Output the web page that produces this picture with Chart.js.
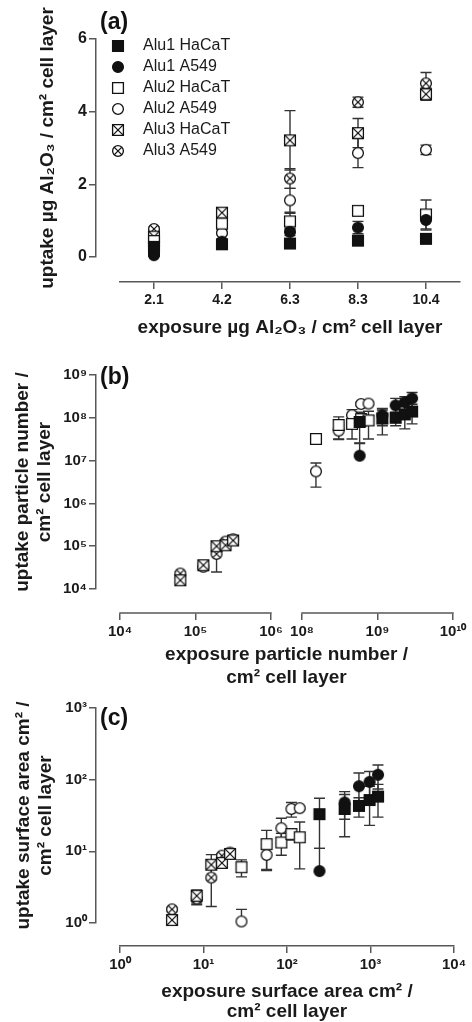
<!DOCTYPE html>
<html>
<head>
<meta charset="utf-8">
<script src="https://cdn.jsdelivr.net/npm/chart.js@4.4.1/dist/chart.umd.min.js"></script>
<style>
  html, body { margin: 0; padding: 0; background: #fff; }
  body { width: 472px; height: 1022px; position: relative; overflow: hidden; }
  canvas { position: absolute; left: 0; }
  .tag { position: absolute; left: 100px; font: bold 23px 'Liberation Sans', Arial, sans-serif; color: #111; line-height: 23px; }
</style>
</head>
<body>
<canvas id="chartA" width="472" height="345" style="top:0"></canvas>
<canvas id="chartB" width="472" height="345" style="top:345px"></canvas>
<canvas id="chartC" width="472" height="332" style="top:690px"></canvas>
<div class="tag" style="top:10px">(a)</div>
<div class="tag" style="top:365px">(b)</div>
<div class="tag" style="top:706px">(c)</div>
<script>
const seriesNames = ['Alu1 HaCaT', 'Alu1 A549', 'Alu2 HaCaT', 'Alu2 A549', 'Alu3 HaCaT', 'Alu3 A549'];

// (a) uptake in µg Al2O3 per cm², by exposure category
const categories = ['2.1', '4.2', '6.3', '8.3', '10.4'];
const aAlu1HaCaT = [0.28, 0.35, 0.37, 0.45, 0.5];
const aAlu1A549 = [0.05, 0.42, 0.69, 0.81, 1.02];
const aAlu2HaCaT = [0.44, 0.92, 0.98, 1.27, 1.17];
const aAlu2A549 = [0.08, 0.66, 1.56, 2.86, 2.95];
const aAlu3HaCaT = [0.56, 1.22, 3.21, 3.41, 4.48];
const aAlu3A549 = [0.77, 1.08, 2.16, 4.26, 4.78];
const aErrAlu1HaCaT = [0.04, 0.05, 0.04, 0.06, 0.05];
const aErrAlu1A549 = [0.03, 0.06, 0.1, 0.17, 0.28];
const aErrAlu2HaCaT = [0.05, 0.15, 0.22, 0.06, 0.4];
const aErrAlu2A549 = [0.02, 0.05, 0.33, 0.4, 0.13];
const aErrAlu3HaCaT = [0.06, 0.12, 0.82, 0.4, 0.17];
const aErrAlu3A549 = [0.06, 0.1, 0.27, 0.14, 0.3];

// (b) particle number
const bExpAlu1 = [5.8e8, 1.16e9, 1.74e9, 2.3e9, 2.87e9];
const bExpAlu2 = [1.53e8, 3.06e8, 4.6e8, 6.06e8, 7.6e8];
const bExpAlu3 = [6.3e4, 1.27e5, 1.9e5, 2.5e5, 3.15e5];
const bAlu1HaCaT = [8.0e7, 9.6e7, 1.0e8, 1.2e8, 1.4e8];
const bAlu1A549 = [1.3e7, 1.15e8, 1.95e8, 2.3e8, 2.85e8];
const bAlu2HaCaT = [3.2e7, 6.8e7, 7.2e7, 9.3e7, 8.7e7];
const bAlu2A549 = [5.6e6, 5.0e7, 1.15e8, 2.1e8, 2.15e8];
const bAlu3HaCaT = [1.6e4, 3.6e4, 1.0e5, 1.05e5, 1.36e5];
const bAlu3A549 = [2.3e4, 3.3e4, 6.6e4, 1.28e5, 1.45e5];
const bErrAlu1HaCaT = [5.5e7, 5.6e7, 3.5e7, 6.5e7, 6.8e7];
const bErrAlu1A549 = [1.3e7, 5e7, 9e7, 8e7, 1.05e8];
const bErrAlu2HaCaT = [2e6, 3.7e7, 4e7, 3e7, 5.5e7];
const bErrAlu2A549 = [3.2e6, 1.8e7, 4e7, 2e7, 2e7];
const bErrAlu3HaCaT = [2e3, 4e3, 2.8e4, 1.2e4, 1e4];
const bErrAlu3A549 = [2e3, 3e3, 4.1e4, 1.2e4, 1e4];
const bXTicks = [1e4, 1e5, 1e6, 1e8, 1e9, 1e10];
const bXLabels = ['10⁴', '10⁵', '10⁶', '10⁸', '10⁹', '10¹⁰'];
const bYTicks = [1e4, 1e5, 1e6, 1e7, 1e8, 1e9];
const bYLabels = ['10⁴', '10⁵', '10⁶', '10⁷', '10⁸', '10⁹'];

// (c) surface area
const cExpAlu1 = [245, 490, 727, 975, 1230];
const cExpAlu2 = [28.5, 57, 85.5, 113, 142];
const cExpAlu3 = [4.2, 8.3, 12.4, 16.6, 20.8];
const cAlu1HaCaT = [33, 39, 43, 52, 58];
const cAlu1A549 = [5.3, 48, 81, 93, 117];
const cAlu2HaCaT = [6.0, 12.6, 13.3, 17.4, 15.7];
const cAlu2A549 = [1.05, 8.9, 21, 39, 40];
const cAlu3HaCaT = [1.1, 2.4, 6.5, 6.9, 9.2];
const cAlu3A549 = [1.55, 2.2, 4.3, 8.7, 9.6];
const cErrAlu1HaCaT = [22, 23, 13, 29, 28];
const cErrAlu1A549 = [5.7, 20, 43, 37, 43];
const cErrAlu2HaCaT = [1.6, 7, 4.5, 3, 10];
const cErrAlu2A549 = [0.5, 3.5, 8, 9, 2];
const cErrAlu3HaCaT = [0.1, 0.5, 2.5, 1, 0.5];
const cErrAlu3A549 = [0.1, 0.4, 2.6, 0.6, 0.5];
const cXTicks = [1, 10, 100, 1000, 10000];
const cXLabels = ['10⁰', '10¹', '10²', '10³', '10⁴'];
const cYTicks = [1, 10, 100, 1000];
const cYLabels = ['10⁰', '10¹', '10²', '10³'];

const fontFamily = "'Liberation Sans', Arial, Helvetica, sans-serif";
const ink = '#1a1a1a';
const axisGray = '#585858';
Chart.defaults.font.family = fontFamily;
Chart.defaults.color = ink;

// marker images: same glyph in plot and legend
function marker(shape, filled, cross) {
  const c = document.createElement('canvas');
  c.width = 14; c.height = 14;
  const g = c.getContext('2d');
  const m = 7, r = 5.4;
  g.lineWidth = 1.3;
  g.strokeStyle = '#111';
  g.fillStyle = filled ? '#111' : '#fff';
  g.beginPath();
  if (shape === 'square') g.rect(m - r, m - r, 2 * r, 2 * r);
  else g.arc(m, m, r, 0, Math.PI * 2);
  g.fill();
  g.stroke();
  if (cross) {
    const d = shape === 'square' ? r : r * 0.72;
    g.beginPath();
    g.moveTo(m - d, m - d); g.lineTo(m + d, m + d);
    g.moveTo(m + d, m - d); g.lineTo(m - d, m + d);
    g.stroke();
  }
  return c;
}
const markers = [
  marker('square', true), marker('circle', true),
  marker('square', false), marker('circle', false),
  marker('square', false, true), marker('circle', false, true)
];

// log axis with a gap (panel b)
class BrokenLogScale extends Chart.LogarithmicScale {
  static id = 'brokenLog';
  static defaults = {};
  _logs() {
    const o = this.options;
    return [Math.log10(this.min), Math.log10(o.breakLow), Math.log10(o.breakHigh), Math.log10(this.max)];
  }
  getPixelForValue(value) {
    const [lo, bl, bh, hi] = this._logs();
    const gap = this.options.gap;
    const k = (this.width - gap) / ((bl - lo) + (hi - bh));
    const v = Math.log10(value);
    if (v <= (bl + bh) / 2) return this.left + (v - lo) * k;
    return this.left + (bl - lo) * k + gap + (v - bh) * k;
  }
  getValueForPixel(px) {
    const [lo, bl, bh, hi] = this._logs();
    const gap = this.options.gap;
    const k = (this.width - gap) / ((bl - lo) + (hi - bh));
    const d = px - this.left;
    if (d <= (bl - lo) * k + gap / 2) return Math.pow(10, lo + d / k);
    return Math.pow(10, bh + (d - (bl - lo) * k - gap) / k);
  }
  drawBorder() {
    const border = this.options.border;
    if (!border.display) return;
    const ctx = this.ctx;
    ctx.save();
    ctx.lineWidth = border.width;
    ctx.strokeStyle = border.color;
    ctx.beginPath();
    [[this.min, this.options.breakLow], [this.options.breakHigh, this.max]].forEach(([a, b]) => {
      ctx.moveTo(this.getPixelForValue(a) - border.width / 2, this.top);
      ctx.lineTo(this.getPixelForValue(b) + border.width / 2, this.top);
    });
    ctx.stroke();
    ctx.restore();
  }
}
Chart.register(BrokenLogScale);

// error bars; the lower half is dropped when it would fall below the axis minimum
const errorBars = {
  id: 'errorBars',
  beforeDatasetsDraw(chart) {
    const ctx = chart.ctx;
    ctx.save();
    ctx.strokeStyle = '#333';
    ctx.lineWidth = 1.4;
    chart.data.datasets.forEach((ds, i) => {
      const meta = chart.getDatasetMeta(i);
      const ys = chart.scales[meta.yAxisID];
      meta.data.forEach((pt, j) => {
        const raw = ds.data[j];
        const v = typeof raw === 'object' ? raw.y : raw;
        const e = ds.errors[j];
        const x = pt.x;
        const yTop = ys.getPixelForValue(v + e);
        const hasLow = v - e >= ys.min;
        const yBot = hasLow ? ys.getPixelForValue(v - e) : pt.y;
        const w = 5.5;
        ctx.beginPath();
        ctx.moveTo(x, yTop); ctx.lineTo(x, yBot);
        ctx.moveTo(x - w, yTop); ctx.lineTo(x + w, yTop);
        if (hasLow) { ctx.moveTo(x - w, yBot); ctx.lineTo(x + w, yBot); }
        ctx.stroke();
      });
    });
    ctx.restore();
  }
};

function makeDatasets(uptake, errs, exposure) {
  return seriesNames.map((name, i) => ({
    label: name,
    data: exposure ? uptake[i].map((y, j) => ({x: exposure[i][j], y: y})) : uptake[i],
    errors: errs[i],
    xAxisID: 'x',
    yAxisID: 'y',
    pointStyle: markers[i],
    pointRadius: 5,
    pointHoverRadius: 5,
    showLine: false,
    borderColor: '#111',
    backgroundColor: '#111',
    clip: false
  }));
}

function spacer(pos, stack, weight, order, size) {
  return {
    type: 'linear', position: pos, stack: stack, stackWeight: weight, weight: order,
    min: 0, max: 1, display: true,
    ticks: {display: false}, grid: {display: false}, border: {display: false},
    afterFit: s => { if (pos === 'left') s.width = size; else s.height = size; }
  };
}

function axis(cfg) {
  return Object.assign({
    display: true,
    grid: {display: true, drawOnChartArea: false, drawTicks: true, tickLength: 7, color: axisGray, lineWidth: 1.5},
    border: {display: true, color: axisGray, width: 1.5}
  }, cfg);
}

function titleOpts(text, size, lh, pad) {
  return {display: true, text: text, color: ink, font: {size: size, weight: 'bold', lineHeight: lh}, padding: pad};
}

const baseOptions = {
  responsive: false,
  animation: false,
  events: [],
  plugins: {tooltip: {enabled: false}, legend: {display: false}}
};

// ---------- panel (a)
new Chart('chartA', {
  type: 'line',
  data: {
    labels: categories,
    datasets: makeDatasets(
      [aAlu1HaCaT, aAlu1A549, aAlu2HaCaT, aAlu2A549, aAlu3HaCaT, aAlu3A549],
      [aErrAlu1HaCaT, aErrAlu1A549, aErrAlu2HaCaT, aErrAlu2A549, aErrAlu3HaCaT, aErrAlu3A549])
  },
  plugins: [errorBars],
  options: Object.assign({}, baseOptions, {
    layout: {padding: {top: 39, right: 12, left: 0, bottom: 0}},
    plugins: {
      tooltip: {enabled: false},
      legend: {
        display: true, position: 'chartArea', align: 'start',
        // empty title only pushes the rows down to sit beside the 6 tick
        title: {display: true, text: '', font: {size: 10, lineHeight: 1}, padding: {top: 23, bottom: 0}},
        labels: {usePointStyle: true, pointStyleWidth: 34, padding: 5, color: ink, font: {size: 16}}
      }
    },
    scales: {
      x0: spacer('bottom', 'bx', 24, 0, 63),
      x: axis({
        type: 'category', position: 'bottom', stack: 'bx', stackWeight: 340, weight: 1, offset: true,
        ticks: {color: ink, font: {size: 14, weight: 'bold'}, padding: 3, autoSkip: false, maxRotation: 0},
        title: titleOpts('exposure µg Al₂O₃ / cm² cell layer', 19, 1.2, {top: 0, bottom: 6}),
        afterFit: s => { s.height = 63; }
      }),
      y: axis({
        type: 'linear', position: 'left', stack: 'ly', stackWeight: 218, weight: 1, min: 0, max: 6,
        ticks: {stepSize: 2, color: ink, font: {size: 16, weight: 'bold'}, padding: 2},
        title: titleOpts('uptake µg Al₂O₃ / cm² cell layer', 19, 1.2, {top: 36, bottom: 0}),
        afterFit: s => { s.width = 96; }
      }),
      yBot: spacer('left', 'ly', 25, 0, 96)
    }
  })
});

// ---------- panel (b)
new Chart('chartB', {
  type: 'scatter',
  data: {
    datasets: makeDatasets(
      [bAlu1HaCaT, bAlu1A549, bAlu2HaCaT, bAlu2A549, bAlu3HaCaT, bAlu3A549],
      [bErrAlu1HaCaT, bErrAlu1A549, bErrAlu2HaCaT, bErrAlu2A549, bErrAlu3HaCaT, bErrAlu3A549],
      [bExpAlu1, bExpAlu1, bExpAlu2, bExpAlu2, bExpAlu3, bExpAlu3])
  },
  plugins: [errorBars],
  options: Object.assign({}, baseOptions, {
    layout: {padding: {top: 30, right: 19, left: 0, bottom: 0}},
    scales: {
      x0: spacer('bottom', 'bx', 24, 0, 77),
      x: axis({
        type: 'brokenLog', position: 'bottom', stack: 'bx', stackWeight: 333, weight: 1,
        min: 1e4, max: 1e10, breakLow: 1e6, breakHigh: 1e8, gap: 31,
        afterBuildTicks: s => { s.ticks = bXTicks.map(v => ({value: v})); },
        ticks: {color: ink, font: {size: 15, weight: 'bold'}, padding: 3, autoSkip: false, maxRotation: 0,
                callback: (v, i) => bXLabels[i]},
        title: titleOpts(['exposure particle number /', 'cm² cell layer'], 19, 1.2, {top: 0, bottom: 1}),
        afterFit: s => { s.height = 77; }
      }),
      y: axis({
        type: 'logarithmic', position: 'left', stack: 'ly', stackWeight: 214, weight: 1, min: 1e4, max: 1e9,
        afterBuildTicks: s => { s.ticks = bYTicks.map(v => ({value: v})); },
        ticks: {color: ink, font: {size: 15, weight: 'bold'}, padding: 2, autoSkip: false,
                callback: (v, i) => bYLabels[i]},
        title: titleOpts(['uptake particle number /', 'cm² cell layer'], 19, 1.2, {top: 11, bottom: 0}),
        afterFit: s => { s.width = 96; }
      }),
      yBot: spacer('left', 'ly', 24, 0, 96)
    }
  })
});

// ---------- panel (c)
new Chart('chartC', {
  type: 'scatter',
  data: {
    datasets: makeDatasets(
      [cAlu1HaCaT, cAlu1A549, cAlu2HaCaT, cAlu2A549, cAlu3HaCaT, cAlu3A549],
      [cErrAlu1HaCaT, cErrAlu1A549, cErrAlu2HaCaT, cErrAlu2A549, cErrAlu3HaCaT, cErrAlu3A549],
      [cExpAlu1, cExpAlu1, cExpAlu2, cExpAlu2, cExpAlu3, cExpAlu3])
  },
  plugins: [errorBars],
  options: Object.assign({}, baseOptions, {
    layout: {padding: {top: 18, right: 18, left: 0, bottom: 0}},
    scales: {
      x0: spacer('bottom', 'bx', 24, 0, 76),
      x: axis({
        type: 'logarithmic', position: 'bottom', stack: 'bx', stackWeight: 334, weight: 1, min: 1, max: 1e4,
        afterBuildTicks: s => { s.ticks = cXTicks.map(v => ({value: v})); },
        ticks: {color: ink, font: {size: 15, weight: 'bold'}, padding: 3, autoSkip: false, maxRotation: 0,
                callback: (v, i) => cXLabels[i]},
        title: titleOpts(['exposure surface area cm² /', 'cm² cell layer'], 19, 1.05, {top: 0, bottom: 0}),
        afterFit: s => { s.height = 76; }
      }),
      y: axis({
        type: 'logarithmic', position: 'left', stack: 'ly', stackWeight: 215, weight: 1, min: 1, max: 1e3,
        afterBuildTicks: s => { s.ticks = cYTicks.map(v => ({value: v})); },
        ticks: {color: ink, font: {size: 15, weight: 'bold'}, padding: 2, autoSkip: false,
                callback: (v, i) => cYLabels[i]},
        title: titleOpts(['uptake surface area cm² /', 'cm² cell layer'], 19, 1.2, {top: 12, bottom: 0}),
        afterFit: s => { s.width = 96; }
      }),
      yBot: spacer('left', 'ly', 23, 0, 96)
    }
  })
});
</script>
</body>
</html>
